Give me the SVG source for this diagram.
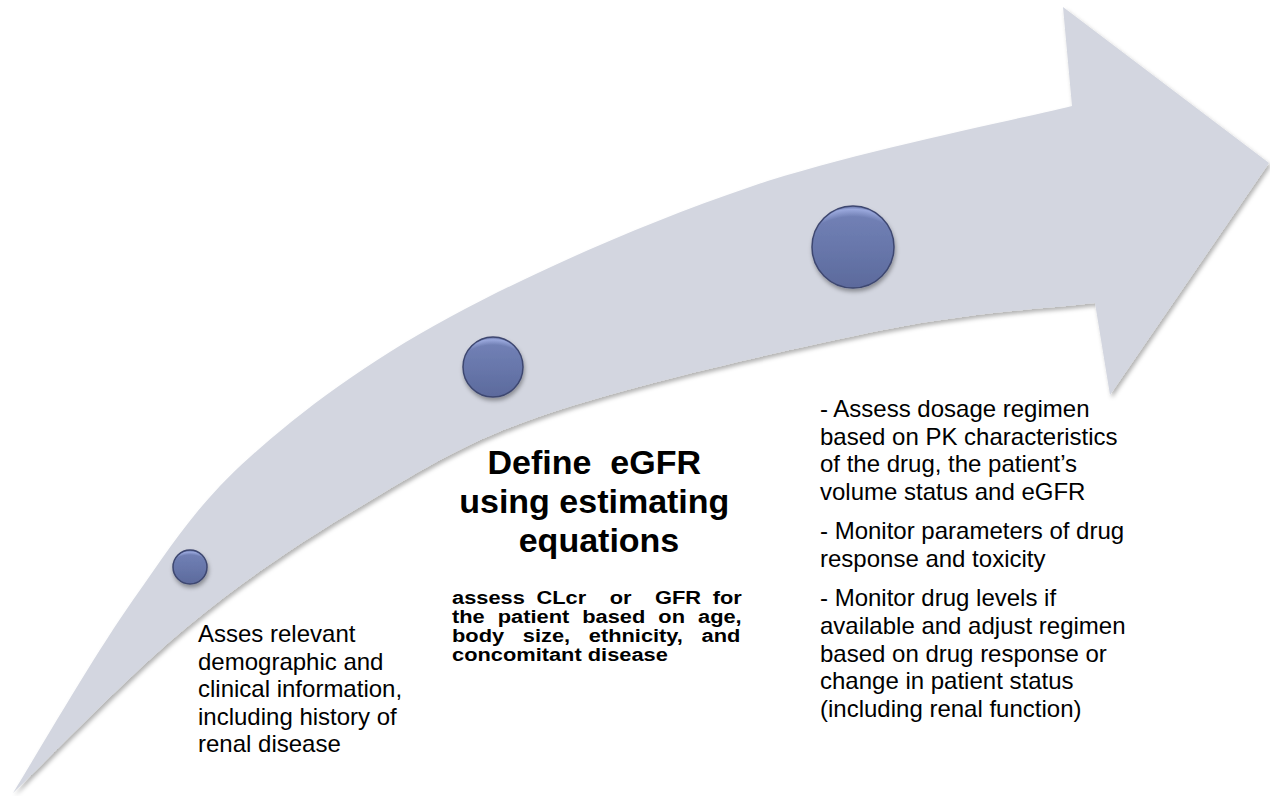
<svg xmlns="http://www.w3.org/2000/svg" width="1270" height="796" viewBox="0 0 1270 796">
  <defs>
    <filter id="shadow" x="-10%" y="-10%" width="120%" height="120%">
      <feDropShadow dx="2" dy="3" stdDeviation="2" flood-color="#000" flood-opacity="0.3"/>
    </filter>
    <filter id="dotShadow" x="-30%" y="-30%" width="160%" height="160%">
      <feDropShadow dx="1" dy="3" stdDeviation="2" flood-color="#000" flood-opacity="0.35"/>
    </filter>
    <linearGradient id="dotFill" x1="0" y1="0" x2="0" y2="1">
      <stop offset="0" stop-color="#7483B8"/>
      <stop offset="0.5" stop-color="#6877AB"/>
      <stop offset="1" stop-color="#5C6A9C"/>
    </linearGradient>
    <radialGradient id="dotRim" cx="50%" cy="100%" r="100%" fx="50%" fy="100%">
      <stop offset="0.88" stop-color="#A6B4E8" stop-opacity="0"/>
      <stop offset="0.97" stop-color="#A6B4E8" stop-opacity="0.75"/>
      <stop offset="1" stop-color="#A6B4E8" stop-opacity="0"/>
    </radialGradient>
  </defs>
  <style>
    .arrow { fill: #D3D6E0; }
    .dot { fill: url(#dotFill); stroke: #3E4770; stroke-width: 1.5; }
    .rim { fill: url(#dotRim); }
    .body { font-family: "Liberation Sans", Arial, sans-serif; font-size: 24px; fill: #000; }
    .title { font-family: "Liberation Sans", Arial, sans-serif; font-size: 34px; font-weight: bold; fill: #000; text-anchor: middle; }
    .small { font-family: "Liberation Sans", Arial, sans-serif; font-size: 18.5px; font-weight: bold; fill: #000; }
  </style>

  <g id="arrow" filter="url(#shadow)">
    <path class="arrow" d="M13,793
      C33,761 93.5,656 133,600
      C172.5,544 197.2,504.2 250,457
      C302.8,409.8 366.7,362 450,317
      C533.3,272 646.3,222.2 750,187
      C853.7,151.8 1018.3,119.5 1072,106
      L1063,7 L1269,163 L1110,395 L1095,303
      C1059.7,307.5 973.8,311.7 883,330
      C792.2,348.3 636.7,383.8 550,413
      C463.3,442.2 423.5,469.3 363,505
      C302.5,540.7 245.3,579 187,627
      C128.7,675 42,765.3 13,793 Z"/>
  </g>

  <g id="connectors"></g>

  <g id="step1">
    <g filter="url(#dotShadow)">
      <circle class="dot" cx="190" cy="567" r="17"/>
    </g>
    <circle class="rim" cx="190" cy="567" r="16"/>
    <text class="body">
      <tspan x="198" y="642">Asses relevant</tspan>
      <tspan x="198" y="669.5">demographic and</tspan>
      <tspan x="198" y="697">clinical information,</tspan>
      <tspan x="198" y="724.5">including history of</tspan>
      <tspan x="198" y="752">renal disease</tspan>
    </text>
  </g>

  <g id="step2">
    <g filter="url(#dotShadow)">
      <circle class="dot" cx="493" cy="367" r="30"/>
    </g>
    <circle class="rim" cx="493" cy="367" r="29"/>
    <text class="title">
      <tspan x="599" y="474" xml:space="preserve">Define  eGFR</tspan>
      <tspan x="599" y="513">using estimating</tspan>
      <tspan x="599" y="552">equations</tspan>
    </text>
    <g transform="translate(452,0) scale(1.18,1)">
      <text class="small" x="0" y="604" word-spacing="4.8" xml:space="preserve">assess CLcr  or  GFR for</text>
      <text class="small" x="0" y="623" word-spacing="5.9">the patient based on age,</text>
      <text class="small" x="0" y="642" word-spacing="10.7">body size, ethnicity, and</text>
      <text class="small" x="0" y="661">concomitant disease</text>
    </g>
  </g>

  <g id="step3">
    <g filter="url(#dotShadow)">
      <circle class="dot" cx="853" cy="247" r="41"/>
    </g>
    <circle class="rim" cx="853" cy="247" r="40"/>
    <text class="body">
      <tspan x="820" y="417">- Assess dosage regimen</tspan>
      <tspan x="820" y="444.7">based on PK characteristics</tspan>
      <tspan x="820" y="472.4">of the drug, the patient’s</tspan>
      <tspan x="820" y="500.1">volume status and eGFR</tspan>
      <tspan x="820" y="539.3">- Monitor parameters of drug</tspan>
      <tspan x="820" y="567">response and toxicity</tspan>
      <tspan x="820" y="606.2">- Monitor drug levels if</tspan>
      <tspan x="820" y="633.9">available and adjust regimen</tspan>
      <tspan x="820" y="661.6">based on drug response or</tspan>
      <tspan x="820" y="689.3">change in patient status</tspan>
      <tspan x="820" y="717">(including renal function)</tspan>
    </text>
  </g>
</svg>
